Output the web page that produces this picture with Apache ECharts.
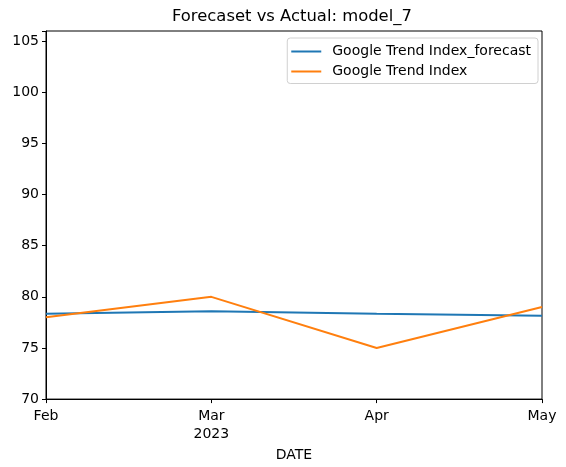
<!DOCTYPE html>
<html><head><meta charset="utf-8">
<script src="https://cdn.jsdelivr.net/npm/echarts@6/dist/echarts.min.js"></script>
<style>html,body{margin:0;padding:0;background:#fff}#c{width:566px;height:467px}</style>
</head><body><div id="c"></div>
<script>
const months = ['Feb', 'Mar', 'Apr', 'May'];
const yearLabel = '2023';
const forecast = [78.35, 78.6, 78.35, 78.15];
const actual = [78.0, 80.0, 75.0, 79.0];
const yTicks = [70, 75, 80, 85, 90, 95, 100, 105];

const font = 'DejaVu Sans';
const chart = echarts.init(document.getElementById('c'));
chart.setOption({
  animation: false,
  backgroundColor: '#fff',
  textStyle: { fontFamily: font },
  title: {
    text: 'Forecaset vs Actual: model_7',
    left: 172, top: 9, padding: 0,
    textStyle: { fontFamily: font, fontSize: 16.4, fontWeight: 'normal', color: '#000' }
  },
  legend: {
    orient: 'vertical', right: 28, top: 38,
    padding: [6.5, 7, 5, 4], itemGap: 6, itemWidth: 30, itemHeight: 2, icon: 'rect',
    borderColor: '#d0d0d0', borderWidth: 1, borderRadius: 3,
    textStyle: { fontFamily: font, fontSize: 14, color: '#000', padding: [0, 0, 0, 6] },
    data: ['Google Trend Index_forecast', 'Google Trend Index']
  },
  grid: { left: 46, right: 24, top: 31, bottom: 66, show: true, borderColor: '#000', borderWidth: 1 },
  xAxis: {
    type: 'category', data: months, boundaryGap: false,
    name: 'DATE', nameLocation: 'middle', nameGap: 42,
    nameTextStyle: { fontFamily: font, fontSize: 14, color: '#000' },
    axisLine: { lineStyle: { color: '#000' } },
    axisTick: { alignWithLabel: true, length: 4, lineStyle: { color: '#000' } },
    axisLabel: {
      fontFamily: font, fontSize: 14, color: '#000', margin: 8, lineHeight: 18,
      formatter: (v, i) => i === 1 ? v + '\n' + yearLabel : v
    },
    splitLine: { show: false }
  },
  yAxis: {
    type: 'value', min: 70, max: 106, interval: 5,
    axisLine: { show: true, lineStyle: { color: '#000' } },
    axisTick: { show: true, length: 4, lineStyle: { color: '#000' } },
    axisLabel: {
      fontFamily: font, fontSize: 14, color: '#000', margin: 7,
      formatter: v => yTicks.includes(v) ? String(v) : ''
    },
    splitLine: { show: false }
  },
  series: [
    { name: 'Google Trend Index_forecast', type: 'line', data: forecast, symbol: 'none',
      lineStyle: { color: '#1f77b4', width: 2 }, itemStyle: { color: '#1f77b4' } },
    { name: 'Google Trend Index', type: 'line', data: actual, symbol: 'none',
      lineStyle: { color: '#ff7f0e', width: 2 }, itemStyle: { color: '#ff7f0e' } }
  ]
});
</script></body></html>
